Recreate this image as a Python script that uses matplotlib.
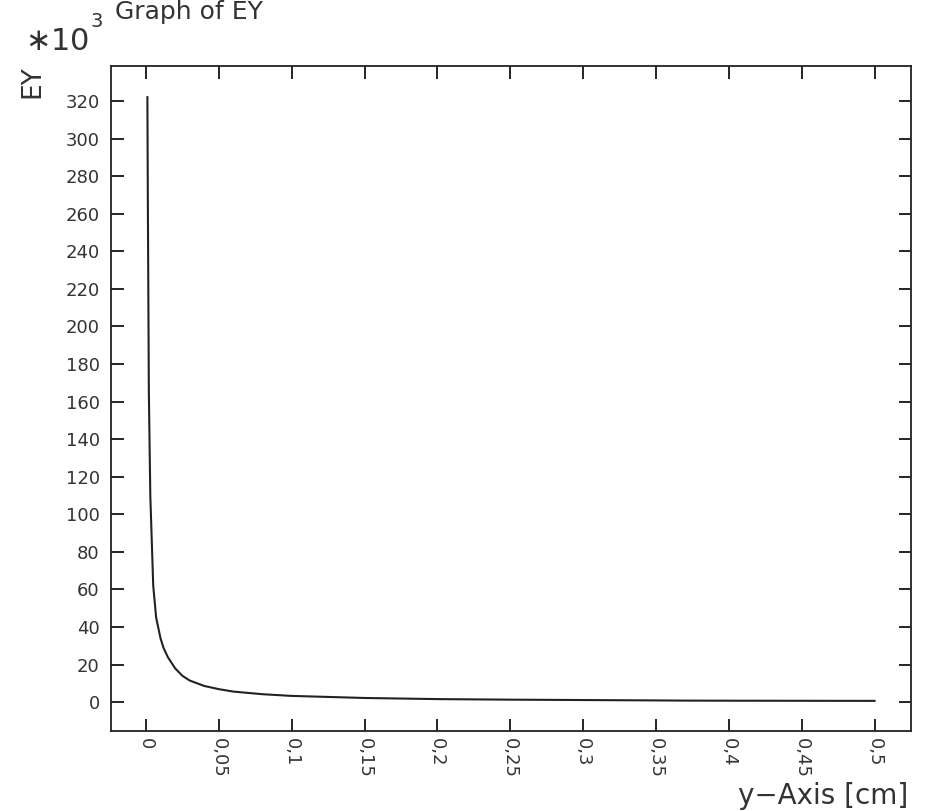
import matplotlib
matplotlib.use("Agg")
import matplotlib.pyplot as plt

# EY along the y-axis (values in units of 10^3)
y_pos = [0.0010, 0.0013, 0.0020, 0.0030, 0.0050, 0.0070, 0.0100, 0.0120, 0.0150,
         0.0200, 0.0250, 0.0300, 0.0400, 0.0500, 0.0600, 0.0800, 0.1000, 0.1500,
         0.2000, 0.2500, 0.3000, 0.3500, 0.3700, 0.4000, 0.4500, 0.5000]
ey = [322, 269, 165, 110, 62, 45, 34, 29, 24,
      18, 14, 11.5, 8.6, 6.9, 5.6, 4.2, 3.3, 2.2,
      1.6, 1.3, 1.1, 0.9, 0.8, 0.75, 0.7, 0.65]

xticks = [0, 0.05, 0.1, 0.15, 0.2, 0.25, 0.3, 0.35, 0.4, 0.45, 0.5]
xtick_labels = ["0", "0,05", "0,1", "0,15", "0,2", "0,25", "0,3", "0,35", "0,4", "0,45", "0,5"]
yticks = list(range(0, 321, 20))

fig = plt.figure(figsize=(9.27, 8.11), dpi=100)
ax = fig.add_axes([0.1197, 0.0986, 0.863, 0.82])

ax.plot(y_pos, ey, color="#222222", linewidth=1.5)

ax.set_xlim(-0.024, 0.525)
ax.set_ylim(-15.4, 338.6)
ax.set_xticks(xticks)
ax.set_xticklabels(xtick_labels, rotation=-90, fontsize=13, color="#333333")
ax.set_yticks(yticks)
ax.set_yticklabels([str(v) for v in yticks], fontsize=13, color="#333333")
ax.tick_params(direction="in", length=9, width=1.2, top=True, right=True,
               labeltop=False, labelright=False)
ax.tick_params(axis="y", pad=8)
ax.tick_params(axis="x", pad=5)
for s in ax.spines.values():
    s.set_linewidth(1.3)
    s.set_color("#222222")

fig.text(115 / 927, 1 - 19 / 811, "Graph of EY", fontsize=18, color="#333333",
         ha="left", va="baseline")
fig.text(25 / 927, 1 - 50 / 811, r"$\ast$10", fontsize=22, color="#333333",
         ha="left", va="baseline")
fig.text(91 / 927, 1 - 27 / 811, "3", fontsize=14, color="#333333",
         ha="left", va="baseline")
fig.text(32 / 927, 1 - 82 / 811, "EY", fontsize=19, color="#333333",
         rotation=90, ha="center", va="center")
fig.text(908 / 927, 1 - 804 / 811, "y\u2212Axis [cm]", fontsize=20, color="#333333",
         ha="right", va="baseline")

fig.savefig("out.png", dpi=100)
